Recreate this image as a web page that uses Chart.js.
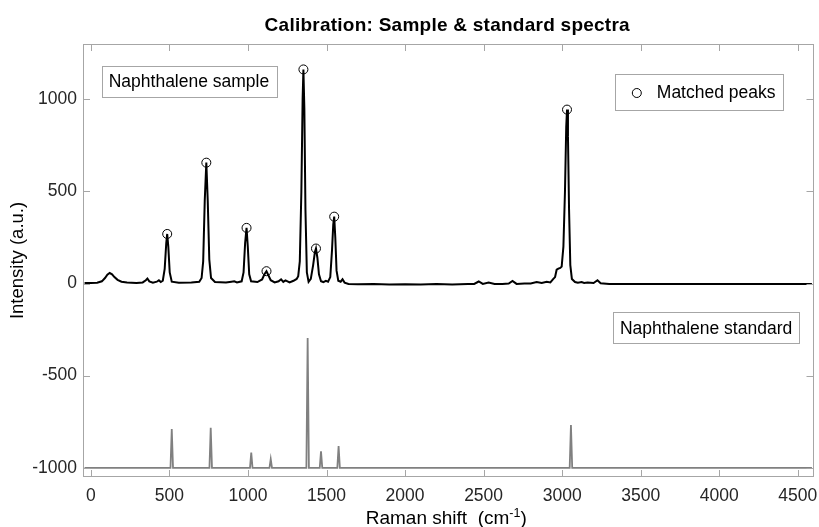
<!DOCTYPE html>
<html>
<head>
<meta charset="utf-8">
<script src="https://cdn.jsdelivr.net/npm/chart.js@4.4.0/dist/chart.umd.min.js"></script>
<style>
  html, body { margin: 0; padding: 0; background: #fff; }
  #wrap { width: 819px; height: 527px; }
</style>
</head>
<body>
<div id="wrap"><canvas id="ramanChart" width="819" height="527"></canvas></div>
<script>
// Sample spectrum (Raman shift, intensity)
const sampleShift = [
  -40, 0, 40, 70, 90, 105, 120, 135, 150, 170, 195, 230, 290, 330, 350, 360, 372, 395, 420, 433,
  445, 458, 470, 480, 486, 493, 502, 515, 560, 640, 690, 705, 715, 725, 735, 744, 754, 765, 790, 860,
  895, 913, 930, 960, 972, 982, 991, 999, 1008, 1020, 1060, 1090, 1105, 1118, 1130, 1145, 1170, 1195, 1211, 1225,
  1239, 1265, 1290, 1310, 1320, 1330, 1340, 1348, 1353, 1359, 1366, 1375, 1386, 1400, 1415, 1426, 1433, 1442, 1452, 1465,
  1480, 1496, 1510, 1524, 1535, 1543, 1549, 1556, 1564, 1575, 1590, 1602, 1615, 1640, 1700, 1800, 1900, 2000, 2100, 2200,
  2300, 2400, 2440, 2469, 2495, 2532, 2570, 2620, 2660, 2684, 2710, 2760, 2800, 2838, 2870, 2902, 2925, 2944, 2955, 2965,
  2976, 2988, 2997, 3008, 3018, 3026, 3031, 3037, 3044, 3052, 3062, 3082, 3100, 3124, 3140, 3162, 3200, 3225, 3245, 3300,
  3500, 3700, 3900, 4100, 4300, 4500, 4590
];
const sampleIntensity = [
  3, 3, 4, 12, 30, 48, 57, 50, 35, 20, 10, 5, 3, 6, 18, 27, 12, 5, 10, 18,
  8, 15, 80, 220, 269, 200, 60, 10, 4, 5, 10, 30, 120, 450, 656, 450, 130, 30, 8, 5,
  10, 12, 6, 12, 60, 220, 302, 200, 50, 12, 8, 22, 50, 67, 45, 18, 6, 12, 23, 9,
  17, 6, 15, 25, 40, 120, 500, 1000, 1162, 950, 400, 60, 9, 25, 100, 170, 190, 140, 50, 12,
  8, 15, 10, 35, 180, 320, 363, 250, 70, 15, 10, 23, 5, -2, -4, -3, -5, -4, -5, -3,
  -5, -3, -2, 11, -2, 5, -3, -3, 0, 14, -2, 0, 0, 8, 3, 10, 6, 25, 35, 75,
  81, 85, 92, 200, 500, 850, 944, 800, 400, 100, 25, 8, 4, 8, 3, 5, 3, 18, 2, -2,
  -3, -2, -3, -2, -3, -2, -2
];

// Peaks marked with circles
const peakShift = [486, 735, 991, 1118, 1353, 1433, 1549, 3031];
const peakIntensity = [269, 656, 302, 67, 1162, 190, 363, 944];

// Reference (standard) lines, drawn down at the -1000 offset
const standardShift = [515, 763, 1021, 1145, 1380, 1465, 1577, 3056];
const standardTop = [-790, -783, -917, -953, -295, -911, -882, -768];
const standardBase = -1000;
const standardStart = -40;
const standardEnd = 4590;
const stickHalfWidth = 8;

const xTicks = [0, 500, 1000, 1500, 2000, 2500, 3000, 3500, 4000, 4500];
const yTicks = [-1000, -500, 0, 500, 1000];

const chartTitle = "Calibration: Sample & standard spectra";
const xTitle = "Raman shift  (cm";
const xTitleSup = "-1";
const yTitle = "Intensity (a.u.)";
const sampleLabel = "Naphthalene sample";
const standardLabel = "Naphthalene standard";
const legendLabel = "Matched peaks";

const FONT = "'Liberation Sans', Helvetica, Arial, sans-serif";
const LABEL_FONT = "17.5px " + FONT;
const AXIS_GRAY = "#a6a6a6";

// build the stick spectrum from the standard arrays
const standardPoints = [{ x: standardStart, y: standardBase }];
standardShift.forEach((s, i) => {
  standardPoints.push({ x: s - stickHalfWidth, y: standardBase });
  standardPoints.push({ x: s, y: standardTop[i] });
  standardPoints.push({ x: s + stickHalfWidth, y: standardBase });
});
standardPoints.push({ x: standardEnd, y: standardBase });

const samplePoints = sampleShift.map((s, i) => ({ x: s, y: sampleIntensity[i] }));
const peakPoints = peakShift.map((s, i) => ({ x: s, y: peakIntensity[i] }));

function drawBoxLabel(ctx, text, x, y, h, pad) {
  ctx.font = LABEL_FONT;
  const w = ctx.measureText(text).width + pad * 2;
  ctx.fillStyle = "#fff";
  ctx.fillRect(x, y, w, h);
  ctx.strokeStyle = AXIS_GRAY;
  ctx.lineWidth = 1;
  ctx.strokeRect(Math.round(x) + 0.5, Math.round(y) + 0.5, Math.round(w), Math.round(h));
  ctx.fillStyle = "#000";
  ctx.textBaseline = "middle";
  ctx.textAlign = "left";
  ctx.fillText(text, x + pad, y + h / 2 + 1);
  return w;
}

// title, box, inward ticks, text boxes and x title in MATLAB style
const matlabFrame = {
  id: "matlabFrame",
  afterDatasetsDraw(chart) {
    const { ctx, chartArea: ca, scales } = chart;
    ctx.save();
    ctx.strokeStyle = AXIS_GRAY;
    ctx.lineWidth = 1;
    ctx.strokeRect(Math.round(ca.left) + 0.5, Math.round(ca.top) + 0.5,
      Math.round(ca.right - ca.left) - 1, Math.round(ca.bottom - ca.top) - 1);
    const tl = 7;
    ctx.beginPath();
    xTicks.forEach(v => {
      const px = Math.round(scales.x.getPixelForValue(v)) + 0.5;
      ctx.moveTo(px, ca.bottom); ctx.lineTo(px, ca.bottom - tl);
      ctx.moveTo(px, ca.top); ctx.lineTo(px, ca.top + tl);
    });
    yTicks.forEach(v => {
      const py = Math.round(scales.y.getPixelForValue(v)) + 0.5;
      ctx.moveTo(ca.left, py); ctx.lineTo(ca.left + tl, py);
      ctx.moveTo(ca.right, py); ctx.lineTo(ca.right - tl, py);
    });
    ctx.stroke();

    // title over the plot area
    ctx.fillStyle = "#000";
    ctx.font = "bold 19px " + FONT;
    if ("letterSpacing" in ctx) ctx.letterSpacing = "0.25px";
    ctx.textAlign = "center";
    ctx.textBaseline = "middle";
    ctx.fillText(chartTitle, (ca.left + ca.right) / 2 - 1, 26);
    if ("letterSpacing" in ctx) ctx.letterSpacing = "0px";

    // text boxes
    drawBoxLabel(ctx, sampleLabel, ca.left + 18.7, ca.top + 21.7, 31, 7);
    ctx.font = LABEL_FONT;
    const sw = ctx.measureText(standardLabel).width + 14;
    drawBoxLabel(ctx, standardLabel, ca.right - 14.3 - sw, ca.top + 268.3, 31, 7);

    // legend
    const lw = 168, lh = 36;
    const lx = ca.right - 30.3 - lw, ly = ca.top + 30;
    ctx.fillStyle = "#fff";
    ctx.fillRect(lx, ly, lw, lh);
    ctx.strokeStyle = AXIS_GRAY;
    ctx.strokeRect(Math.round(lx) + 0.5, Math.round(ly) + 0.5, lw, lh);
    ctx.beginPath();
    ctx.strokeStyle = "#000";
    ctx.arc(lx + 21.6, ly + lh / 2 + 1, 4.5, 0, Math.PI * 2);
    ctx.stroke();
    ctx.fillStyle = "#000";
    ctx.font = LABEL_FONT;
    ctx.textAlign = "left";
    ctx.textBaseline = "middle";
    ctx.fillText(legendLabel, lx + 41.6, ly + lh / 2 + 1);

    // x title with superscript
    ctx.font = "19px " + FONT;
    const w1 = ctx.measureText(xTitle).width;
    ctx.font = "12.5px " + FONT;
    const w2 = ctx.measureText(xTitleSup).width;
    ctx.font = "19px " + FONT;
    const w3 = ctx.measureText(")").width;
    const cx = (ca.left + ca.right) / 2 - 2;
    let tx = cx - (w1 + w2 + w3) / 2;
    const by = 524;
    ctx.textBaseline = "alphabetic";
    ctx.fillText(xTitle, tx, by);
    tx += w1;
    ctx.font = "12.5px " + FONT;
    ctx.fillText(xTitleSup, tx, by - 7);
    tx += w2;
    ctx.font = "19px " + FONT;
    ctx.fillText(")", tx, by);
    ctx.restore();
  }
};

const ctx = document.getElementById("ramanChart").getContext("2d");
const ramanChart = new Chart(ctx, {
  type: "line",
  data: {
    datasets: [
      {
        label: "Sample",
        data: samplePoints,
        borderColor: "#000",
        borderWidth: 2,
        pointRadius: 0,
        tension: 0,
        fill: false
      },
      {
        label: "Standard",
        data: standardPoints,
        borderColor: "#808080",
        borderWidth: 1.8,
        pointRadius: 0,
        tension: 0,
        fill: false
      },
      {
        label: legendLabel,
        data: peakPoints,
        showLine: false,
        pointStyle: "circle",
        pointRadius: 4.5,
        pointBorderWidth: 1,
        pointBorderColor: "#000",
        pointBackgroundColor: "rgba(0,0,0,0)"
      }
    ]
  },
  options: {
    responsive: false,
    animation: false,
    layout: { padding: { left: 0, right: 3, top: 44, bottom: 0 } },
    plugins: {
      legend: { display: false },
      tooltip: { enabled: false },
      title: { display: false }
    },
    scales: {
      x: {
        type: "linear",
        min: -50,
        max: 4600,
        afterBuildTicks: (axis) => { axis.ticks = xTicks.map(v => ({ value: v })); },
        afterFit: (axis) => { axis.height = 50; axis.paddingLeft = 0; axis.paddingRight = 0; },
        grid: { display: false, drawTicks: false },
        border: { display: false },
        ticks: {
          color: "#262626",
          font: { family: FONT, size: 17.5 },
          padding: 9,
          maxRotation: 0,
          autoSkip: false,
          callback: (v) => String(v)
        }
      },
      y: {
        type: "linear",
        min: -1050,
        max: 1300,
        afterBuildTicks: (axis) => { axis.ticks = yTicks.map(v => ({ value: v })); },
        afterFit: (axis) => { axis.width = 83; axis.paddingTop = 0; axis.paddingBottom = 0; },
        grid: { display: false, drawTicks: false },
        border: { display: false },
        title: {
          display: true,
          text: yTitle,
          color: "#000",
          font: { family: FONT, size: 18.5 },
          padding: { top: 7, bottom: 0 }
        },
        ticks: {
          color: "#262626",
          font: { family: FONT, size: 17.5 },
          padding: 6,
          autoSkip: false,
          callback: (v) => String(v)
        }
      }
    }
  },
  plugins: [matlabFrame]
});
</script>
</body>
</html>
